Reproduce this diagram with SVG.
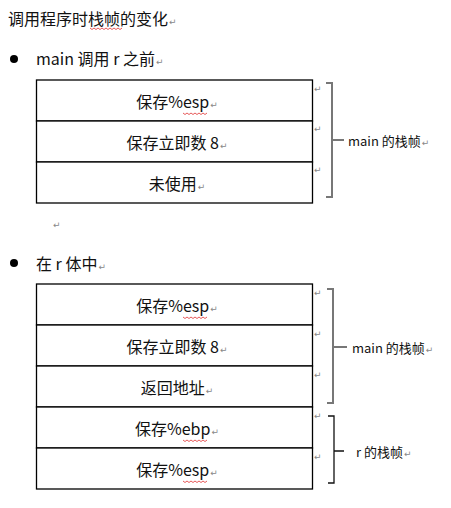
<svg xmlns="http://www.w3.org/2000/svg" width="451" height="508" viewBox="0 0 451 508">
<style>
text{font-family:"Noto Sans CJK SC","Liberation Sans",sans-serif;fill:#111}
.t{font-size:16px}
.c{font-size:16px;text-anchor:middle}
.l{font-size:13px}
.rm{font-size:9px;fill:#888;font-family:"DejaVu Sans",sans-serif}
.cell{fill:#fff;stroke:#000;stroke-width:1.3}
.bm{fill:none;stroke:#777;stroke-width:2}
.br{fill:none;stroke:#111;stroke-width:1.3}
.sq{fill:none;stroke:#e03030;stroke-width:0.8}
</style>
<defs>
<path id="wave" class="sq" d="M0,0 l2,1.5 l2,-1.5 l2,1.5 l2,-1.5 l2,1.5 l2,-1.5 l2,1.5 l2,-1.5 l2,1.5 l2,-1.5 l2,1.5 l2,-1.5"/>
<path id="wave2" class="sq" d="M0,0 l2,1.5 l2,-1.5 l2,1.5 l2,-1.5 l2,1.5 l2,-1.5 l2,1.5 l2,-1.5 l2,1.5 l2,-1.5 l2,1.5 l2,-1.5 l2,1.5 l2,-1.5 l2,1.5 l2,-1.5"/>
</defs>

<g id="title">
<text class="t" x="8" y="25">调用程序时栈帧的变化<tspan class="rm" dx="1">↵</tspan></text>
<use href="#wave2" x="90" y="28"/>
</g>

<g id="heading1">
<circle cx="14" cy="59" r="4" fill="#000"/>
<text class="t" x="36" y="65">main 调用 r 之前<tspan class="rm" dx="1">↵</tspan></text>
</g>

<g id="frame1">
<g id="f1-row1">
<rect class="cell" x="36.5" y="80" width="276" height="41"/>
<text class="c" x="177" y="108">保存%esp<tspan class="rm" dx="1">↵</tspan></text>
<use href="#wave" x="183" y="113"/>
</g>
<g id="f1-row2">
<rect class="cell" x="36.5" y="121" width="276" height="41"/>
<text class="c" x="177" y="149">保存立即数 8<tspan class="rm" dx="1">↵</tspan></text>
</g>
<g id="f1-row3">
<rect class="cell" x="36.5" y="162" width="276" height="41"/>
<text class="c" x="177" y="190">未使用<tspan class="rm" dx="1">↵</tspan></text>
</g>
<text class="rm" x="314" y="92">↵</text>
<text class="rm" x="314" y="132">↵</text>
<text class="rm" x="314" y="173">↵</text>
</g>

<g id="brace1">
<path class="bm" d="M326,83 H332 V197 H326 M332,140 H344"/>
<text class="l" x="348" y="146">main 的栈帧<tspan class="rm" dx="1">↵</tspan></text>
</g>

<text class="rm" x="53" y="228">↵</text>

<g id="heading2">
<circle cx="14" cy="263" r="4" fill="#000"/>
<text class="t" x="36" y="270">在 r 体中<tspan class="rm" dx="1">↵</tspan></text>
</g>

<g id="frame2">
<g id="f2-row1">
<rect class="cell" x="36.5" y="284" width="276" height="41"/>
<text class="c" x="177" y="312">保存%esp<tspan class="rm" dx="1">↵</tspan></text>
<use href="#wave" x="183" y="317"/>
</g>
<g id="f2-row2">
<rect class="cell" x="36.5" y="325" width="276" height="41"/>
<text class="c" x="177" y="353">保存立即数 8<tspan class="rm" dx="1">↵</tspan></text>
</g>
<g id="f2-row3">
<rect class="cell" x="36.5" y="366" width="276" height="41"/>
<text class="c" x="177" y="394">返回地址<tspan class="rm" dx="1">↵</tspan></text>
</g>
<g id="f2-row4">
<rect class="cell" x="36.5" y="407" width="276" height="41"/>
<text class="c" x="177" y="435">保存%ebp<tspan class="rm" dx="1">↵</tspan></text>
<use href="#wave" x="183" y="440"/>
</g>
<g id="f2-row5">
<rect class="cell" x="36.5" y="448" width="276" height="41"/>
<text class="c" x="177" y="476">保存%esp<tspan class="rm" dx="1">↵</tspan></text>
<use href="#wave" x="183" y="481"/>
</g>
<text class="rm" x="314" y="296">↵</text>
<text class="rm" x="314" y="337">↵</text>
<text class="rm" x="314" y="378">↵</text>
<text class="rm" x="314" y="419">↵</text>
<text class="rm" x="314" y="460">↵</text>
</g>

<g id="brace2">
<path class="bm" d="M327,289 H333 V403 H327 M333,347 H347"/>
<text class="l" x="352" y="353">main 的栈帧<tspan class="rm" dx="1">↵</tspan></text>
</g>

<g id="brace3">
<path class="br" d="M328,416 H334 V483 H328 M334,451 H344"/>
<text class="l" x="356" y="457">r 的栈帧<tspan class="rm" dx="1">↵</tspan></text>
</g>
</svg>
